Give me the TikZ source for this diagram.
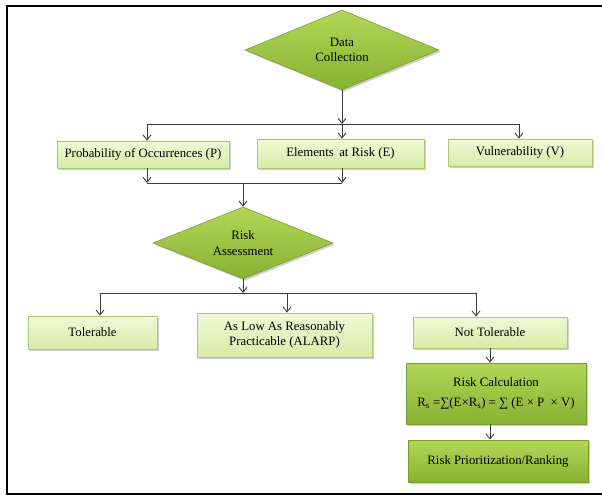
\documentclass[tikz,border=0pt]{standalone}
\usepackage{fontspec}
\setmainfont{Liberation Serif}
\usetikzlibrary{arrows.meta,shapes.geometric,shadows,calc}
\definecolor{lgtop}{HTML}{F0F9D8}
\definecolor{lgbot}{HTML}{D6ECA6}
\definecolor{lgborder}{HTML}{ADC873}
\definecolor{dgtop}{HTML}{B2D658}
\definecolor{dgbot}{HTML}{87B231}
\definecolor{dgborder}{HTML}{7A9E30}
\definecolor{linec}{HTML}{3C3C3C}
\begin{document}
\begin{tikzpicture}[x=1pt,y=-1pt,
  font=\fontsize{12.8}{15.5}\selectfont,
  shadowed/.style={drop shadow={shadow xshift=1.8pt,shadow yshift=-1.8pt,opacity=0.3,fill=black!60}},
  lbox/.style={rectangle, draw=lgborder, line width=0.8pt, top color=lgtop, bottom color=lgbot,
     inner sep=0pt, align=center, shadowed},
  dbox/.style={rectangle, draw=dgborder, line width=0.8pt, top color=dgtop, bottom color=dgbot,
     inner sep=0pt, align=center, shadowed},
  dia/.style={diamond, aspect=2.4, draw=dgborder, line width=0.6pt, top color=dgtop, bottom color=dgbot,
     inner sep=0pt, align=center, shadowed},
  ln/.style={draw=linec, line width=0.9pt},
  arr/.style={ln, -{Straight Barb[length=5pt,width=8pt,line width=0.9pt]}}
]
\useasboundingbox (0,0) rectangle (602,497);
\fill[white] (0,0) rectangle (602,497);
\draw[line width=2.6pt] (615,6) -- (7,6) -- (7,494) -- (615,494);

% nodes
\node[dia, minimum width=194pt, minimum height=80pt] (DC) at (342,50) {Data\\Collection};
\node[lbox, minimum width=172pt, minimum height=27pt] (P) at (143,154.5) {Probability of Occurrences (P)};
\node[lbox, minimum width=167pt, minimum height=29pt] (E) at (340.5,153.5) {Elements\, at Risk (E)};
\node[lbox, minimum width=144pt, minimum height=27pt] (V) at (520,152.5) {Vulnerability (V)};
\node[dia, minimum width=180pt, minimum height=72pt] (RA) at (243,243) {Risk\\Assessment};
\node[lbox, minimum width=129pt, minimum height=33pt] (T) at (92.5,332.5) {Tolerable};
\node[lbox, minimum width=175pt, minimum height=44pt] (A) at (284.5,335) {As Low As Reasonably\\Practicable (ALARP)};
\node[lbox, minimum width=154pt, minimum height=31pt] (NT) at (490,332.5) {Not Tolerable};
\node[dbox, minimum width=180pt, minimum height=61pt] (RC) at (496,393.5)
  {Risk Calculation\\[4pt]R\textsubscript{s} =∑(E×R\textsubscript{s}) = ∑ (E × P\enspace × V)};
\node[dbox, minimum width=180pt, minimum height=42pt] (RP) at (498,461) {Risk Prioritization/Ranking};

% junction coordinates
\coordinate (j1) at (342,124);
\coordinate (j1l) at (147,124);
\coordinate (j1r) at (519,124);
\coordinate (j2l) at (147,183);
\coordinate (j2r) at (342,183);
\coordinate (j2) at (243,183);
\coordinate (j3) at (243,293);
\coordinate (j3l) at (100,293);
\coordinate (j3a) at (287,293);
\coordinate (j3r) at (476,293);

% connectors
\draw[arr] (DC.south) -- (j1);
\draw[ln] (j1l) -- (j1r);
\draw[arr] (j1l) -- (j1l |- P.north);
\draw[arr] (j1) -- (j1 |- E.north);
\draw[arr] (j1r) -- (j1r |- V.north);

\draw[arr] (j1l |- P.south) -- (j2l);
\draw[arr] (j2r |- E.south) -- (j2r);
\draw[ln] (j2l) -- (j2r);
\draw[arr] (j2) -- (RA.north);

\draw[arr] (RA.south) -- (j3);
\draw[ln] (j3l) -- (j3r);
\draw[arr] (j3l) -- (j3l |- T.north);
\draw[arr] (j3a) -- (j3a |- A.north);
\draw[arr] (j3r) -- (j3r |- NT.north);

\draw[arr] (NT.south) -- (NT.south |- RC.north);
\draw[arr] (NT.south |- RC.south) -- (NT.south |- RP.north);
\end{tikzpicture}
\end{document}
